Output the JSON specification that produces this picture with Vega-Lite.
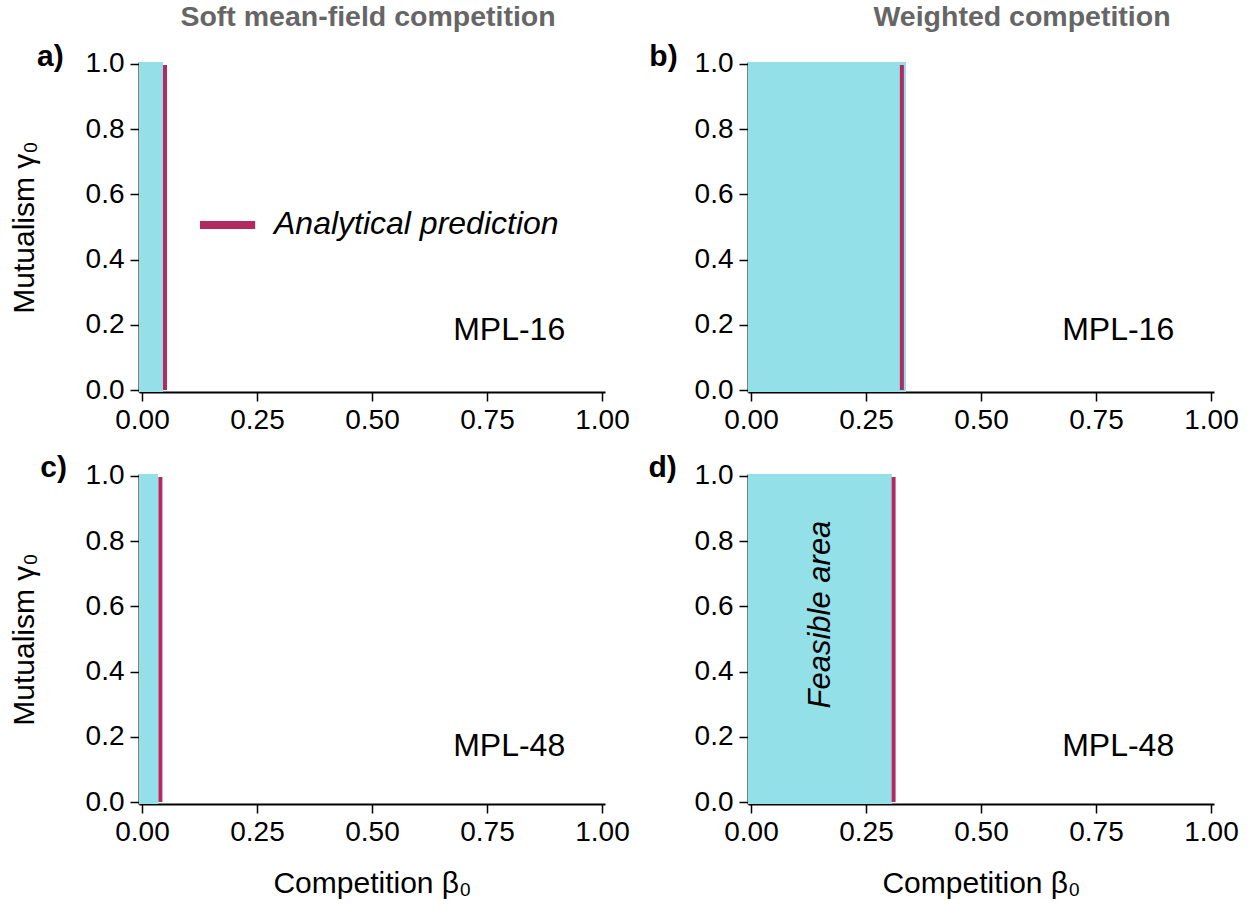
{
  "$schema": "https://vega.github.io/schema/vega-lite/v6.json",
  "padding": {"left": 9, "top": 3, "right": 10, "bottom": 5},
  "background": "white",
  "datasets": {
    "panels": [
      {"panel": "a", "label": "a)", "network": "MPL-16", "beta_lo": -0.0065, "beta_hi": 0.0457, "gamma_lo": -0.006, "gamma_hi": 1.006, "beta_pred": 0.05},
      {"panel": "b", "label": "b)", "network": "MPL-16", "beta_lo": -0.0065, "beta_hi": 0.337, "gamma_lo": -0.006, "gamma_hi": 1.006, "beta_pred": 0.328},
      {"panel": "c", "label": "c)", "network": "MPL-48", "beta_lo": -0.0065, "beta_hi": 0.035, "gamma_lo": -0.006, "gamma_hi": 1.006, "beta_pred": 0.04},
      {"panel": "d", "label": "d)", "network": "MPL-48", "beta_lo": -0.0065, "beta_hi": 0.306, "gamma_lo": -0.006, "gamma_hi": 1.006, "beta_pred": 0.31}
    ]
  },
  "columns": 2,
  "spacing": {"row": 82, "column": 143},
  "bounds": "flush",
  "concat": [
    {
      "width": 466,
      "height": 330,
      "title": {"text": "Soft mean-field competition", "font": "Liberation Sans", "fontSize": 28.5, "fontWeight": "bold", "color": "#666666", "anchor": "middle", "frame": "group", "baseline": "alphabetic", "offset": -13, "dx": -4},
      "data": {"name": "panels"},
      "transform": [{"filter": "datum.panel === 'a'"}],
      "layer": [
        {
          "mark": {"type": "rect", "color": "#93e0e8"},
          "encoding": {
            "x": {"field": "beta_lo", "type": "quantitative", "scale": {"domain": [-0.0065, 1.0065], "nice": false, "zero": false}, "axis": {"values": [0, 0.25, 0.5, 0.75, 1], "format": ".2f", "title": null}},
            "x2": {"field": "beta_hi"},
            "y": {"field": "gamma_lo", "type": "quantitative", "scale": {"domain": [-0.0061, 1.0061], "nice": false, "zero": false}, "axis": {"values": [0, 0.2, 0.4, 0.6, 0.8, 1], "format": ".1f", "title": "Mutualism γ₀"}},
            "y2": {"field": "gamma_hi"}
          }
        },
        {
          "mark": {"type": "rule", "color": "#b22a60", "strokeWidth": 4},
          "encoding": {"x": {"field": "beta_pred", "type": "quantitative"}, "y": {"datum": 0}, "y2": {"datum": 0.997}}
        },
        {
          "mark": {"type": "rule", "color": "#b22a60", "strokeWidth": 8},
          "encoding": {"x": {"datum": 0.126}, "x2": {"datum": 0.246}, "y": {"datum": 0.506}}
        },
        {
          "mark": {"type": "text", "align": "left", "baseline": "middle", "fontSize": 32, "fontStyle": "italic"},
          "encoding": {"x": {"datum": 0.287}, "y": {"datum": 0.51}, "text": {"value": "Analytical prediction"}}
        },
        {
          "mark": {"type": "text", "align": "right", "baseline": "alphabetic", "fontSize": 32},
          "encoding": {"x": {"datum": 0.92}, "y": {"datum": 0.153}, "text": {"field": "network"}}
        },
        {
          "mark": {"type": "text", "align": "left", "baseline": "alphabetic", "fontSize": 30, "fontWeight": "bold"},
          "encoding": {"x": {"datum": -0.228}, "y": {"datum": 0.995}, "text": {"field": "label"}}
        }
      ]
    },
    {
      "width": 466,
      "height": 330,
      "title": {"text": "Weighted competition", "font": "Liberation Sans", "fontSize": 28.5, "fontWeight": "bold", "color": "#666666", "anchor": "middle", "frame": "group", "baseline": "alphabetic", "offset": -13, "dx": 41},
      "data": {"name": "panels"},
      "transform": [{"filter": "datum.panel === 'b'"}],
      "layer": [
        {
          "mark": {"type": "rect", "color": "#93e0e8"},
          "encoding": {
            "x": {"field": "beta_lo", "type": "quantitative", "scale": {"domain": [-0.0065, 1.0065], "nice": false, "zero": false}, "axis": {"values": [0, 0.25, 0.5, 0.75, 1], "format": ".2f", "title": null}},
            "x2": {"field": "beta_hi"},
            "y": {"field": "gamma_lo", "type": "quantitative", "scale": {"domain": [-0.0061, 1.0061], "nice": false, "zero": false}, "axis": {"values": [0, 0.2, 0.4, 0.6, 0.8, 1], "format": ".1f", "title": null}},
            "y2": {"field": "gamma_hi"}
          }
        },
        {
          "mark": {"type": "rule", "color": "#b22a60", "strokeWidth": 4},
          "encoding": {"x": {"field": "beta_pred", "type": "quantitative"}, "y": {"datum": 0}, "y2": {"datum": 0.997}}
        },
        {
          "mark": {"type": "text", "align": "right", "baseline": "alphabetic", "fontSize": 32},
          "encoding": {"x": {"datum": 0.92}, "y": {"datum": 0.153}, "text": {"field": "network"}}
        },
        {
          "mark": {"type": "text", "align": "left", "baseline": "alphabetic", "fontSize": 30, "fontWeight": "bold"},
          "encoding": {"x": {"datum": -0.221}, "y": {"datum": 0.995}, "text": {"field": "label"}}
        }
      ]
    },
    {
      "width": 466,
      "height": 330,
      "data": {"name": "panels"},
      "transform": [{"filter": "datum.panel === 'c'"}],
      "layer": [
        {
          "mark": {"type": "rect", "color": "#93e0e8"},
          "encoding": {
            "x": {"field": "beta_lo", "type": "quantitative", "scale": {"domain": [-0.0065, 1.0065], "nice": false, "zero": false}, "axis": {"values": [0, 0.25, 0.5, 0.75, 1], "format": ".2f", "title": "Competition β₀"}},
            "x2": {"field": "beta_hi"},
            "y": {"field": "gamma_lo", "type": "quantitative", "scale": {"domain": [-0.0061, 1.0061], "nice": false, "zero": false}, "axis": {"values": [0, 0.2, 0.4, 0.6, 0.8, 1], "format": ".1f", "title": "Mutualism γ₀"}},
            "y2": {"field": "gamma_hi"}
          }
        },
        {
          "mark": {"type": "rule", "color": "#b22a60", "strokeWidth": 4},
          "encoding": {"x": {"field": "beta_pred", "type": "quantitative"}, "y": {"datum": 0}, "y2": {"datum": 0.997}}
        },
        {
          "mark": {"type": "text", "align": "right", "baseline": "alphabetic", "fontSize": 32},
          "encoding": {"x": {"datum": 0.92}, "y": {"datum": 0.14}, "text": {"field": "network"}}
        },
        {
          "mark": {"type": "text", "align": "left", "baseline": "alphabetic", "fontSize": 30, "fontWeight": "bold"},
          "encoding": {"x": {"datum": -0.221}, "y": {"datum": 0.998}, "text": {"field": "label"}}
        }
      ]
    },
    {
      "width": 466,
      "height": 330,
      "data": {"name": "panels"},
      "transform": [{"filter": "datum.panel === 'd'"}],
      "layer": [
        {
          "mark": {"type": "rect", "color": "#93e0e8"},
          "encoding": {
            "x": {"field": "beta_lo", "type": "quantitative", "scale": {"domain": [-0.0065, 1.0065], "nice": false, "zero": false}, "axis": {"values": [0, 0.25, 0.5, 0.75, 1], "format": ".2f", "title": "Competition β₀"}},
            "x2": {"field": "beta_hi"},
            "y": {"field": "gamma_lo", "type": "quantitative", "scale": {"domain": [-0.0061, 1.0061], "nice": false, "zero": false}, "axis": {"values": [0, 0.2, 0.4, 0.6, 0.8, 1], "format": ".1f", "title": null}},
            "y2": {"field": "gamma_hi"}
          }
        },
        {
          "mark": {"type": "rule", "color": "#b22a60", "strokeWidth": 4},
          "encoding": {"x": {"field": "beta_pred", "type": "quantitative"}, "y": {"datum": 0}, "y2": {"datum": 0.997}}
        },
        {
          "mark": {"type": "text", "align": "center", "baseline": "middle", "angle": 270, "fontSize": 31, "fontStyle": "italic"},
          "encoding": {"x": {"datum": 0.152}, "y": {"datum": 0.575}, "text": {"value": "Feasible area"}}
        },
        {
          "mark": {"type": "text", "align": "right", "baseline": "alphabetic", "fontSize": 32},
          "encoding": {"x": {"datum": 0.92}, "y": {"datum": 0.14}, "text": {"field": "network"}}
        },
        {
          "mark": {"type": "text", "align": "left", "baseline": "alphabetic", "fontSize": 30, "fontWeight": "bold"},
          "encoding": {"x": {"datum": -0.223}, "y": {"datum": 0.998}, "text": {"field": "label"}}
        }
      ]
    }
  ],
  "config": {
    "font": "Liberation Sans",
    "view": {"stroke": null},
    "text": {"font": "Liberation Sans", "color": "black"},
    "axis": {
      "grid": false,
      "zindex": 1,
      "domainColor": "black",
      "domainWidth": 2,
      "tickColor": "black",
      "tickWidth": 1.5,
      "tickSize": 9,
      "labelFont": "Liberation Sans",
      "labelFontSize": 28,
      "labelColor": "black",
      "labelFlush": false,
      "labelOverlap": false,
      "titleFont": "Liberation Sans",
      "titleFontSize": 30,
      "titleFontWeight": "normal",
      "titleColor": "black"
    },
    "axisX": {"labelPadding": 5, "titlePadding": 22},
    "axisY": {"labelPadding": 6, "titlePadding": 46}
  }
}
